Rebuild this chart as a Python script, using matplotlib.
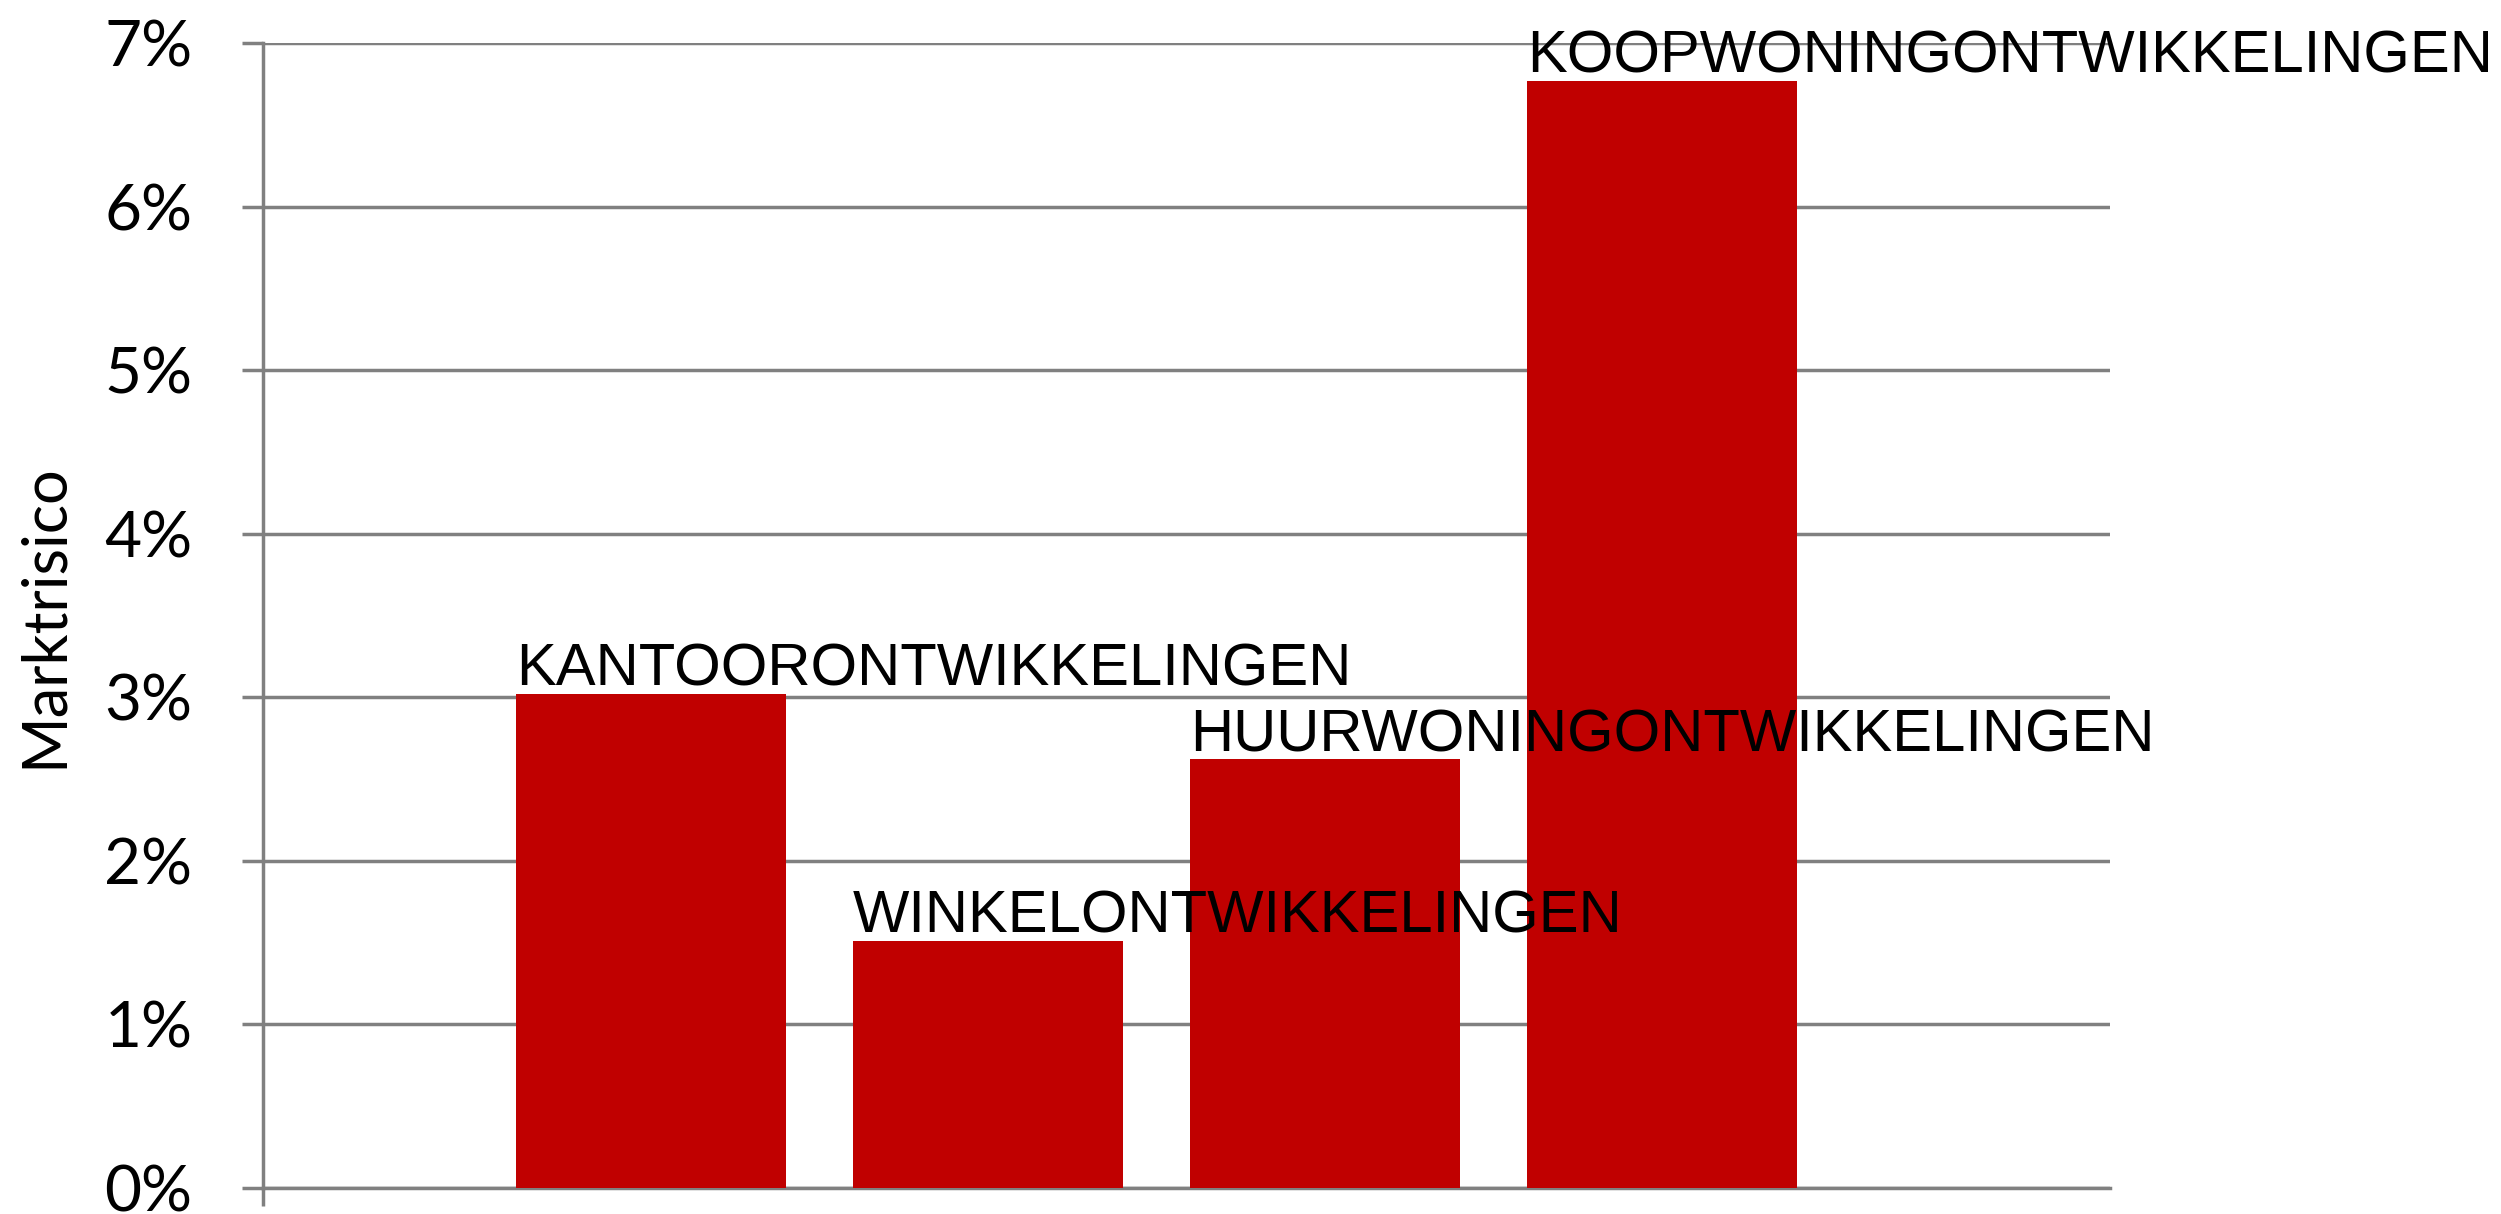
import matplotlib.pyplot as plt
from matplotlib.ticker import FuncFormatter

categories = ['KANTOORONTWIKKELINGEN', 'WINKELONTWIKKELINGEN',
              'HUURWONINGONTWIKKELINGEN', 'KOOPWONINGONTWIKKELINGEN']
risk = [3.02, 1.51, 2.62, 6.77]
yticks = [0, 1, 2, 3, 4, 5, 6, 7]

grey = '#808080'
red = '#C00000'

fig = plt.figure(figsize=(25.01, 12.14), dpi=100)
ax = fig.add_axes([0.1052, 0.0214, 0.7385, 0.9432])

x = list(range(len(categories)))
ax.bar(x, risk, width=0.8, color=red, zorder=3)

for i, (name, v) in enumerate(zip(categories, risk)):
  ax.annotate(name, (i - 0.4, v), xytext=(0, 6), textcoords='offset points',
              ha='left', va='baseline', fontsize=43,
              family='Liberation Sans', color='black', zorder=4)

ax.set_xlim(-1.151, 4.33)
ax.set_ylim(0, 7)
ax.set_yticks(yticks)
ax.yaxis.set_major_formatter(FuncFormatter(lambda v, p: '%d%%' % v))
ax.set_xticks([-1.151])
ax.set_xticklabels([''])

ax.grid(axis='y', color=grey, linewidth=2.5, zorder=0)
for s in ['top', 'right']:
  ax.spines[s].set_visible(False)
ax.spines['left'].set_color(grey)
ax.spines['left'].set_linewidth(2.5)
ax.spines['bottom'].set_color(grey)
ax.spines['bottom'].set_linewidth(2.5)

ax.tick_params(axis='y', length=15, width=2.5, color=grey, pad=36,
               labelsize=46, labelfontfamily='Lato')
ax.tick_params(axis='x', length=13, width=2.5, color=grey)

ax.set_ylabel('Marktrisico', fontsize=44, family='Lato')
ax.yaxis.set_label_coords(-0.103, 0.5)

fig.savefig('out.png', dpi=100, facecolor='white')
